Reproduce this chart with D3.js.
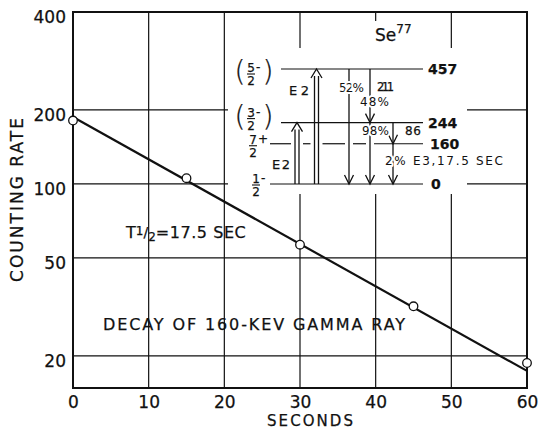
<!DOCTYPE html>
<html>
<head>
<meta charset="utf-8">
<script src="https://cdn.jsdelivr.net/npm/d3@7"></script>
<style>
  body { margin: 0; background: #fff; }
  svg { display: block; }
  text { font-family: "DejaVu Sans", sans-serif; fill: #111; stroke: #111; stroke-width: 0.25px; }
  .halo { stroke: #fff; stroke-width: 4px; paint-order: stroke; stroke-linejoin: round; }
</style>
</head>
<body>
<svg id="chart" width="539" height="430"></svg>
<script>
// Decay of the 160-keV gamma ray of Se77: counting rate against time
const seconds = [0, 15, 30, 45, 60];
const countingRate = [181, 105.5, 56.6, 31.8, 18.7];
const halfLife = 17.5;      // seconds, as stated on the chart
const rateAtZero = 187;     // intercept of the fitted decay line
const xTickValues = [0, 10, 20, 30, 40, 50, 60];
const yTickValues = [20, 50, 100, 200, 500];
const yTickLabels = ["20", "50", "100", "200", "400"];

// Se77 level scheme (keV)
const levelEnergies = [0, 160, 244, 457];
const levelNumerators = ["1", "7", "3", "5"];
const levelParities = ["-", "+", "-", "-"];
const levelBracketed = [false, false, true, true];
const transitionFrom = [0, 0, 457, 457, 244, 244, 160];
const transitionTo = [244, 457, 0, 244, 0, 160, 0];
const transitionLabels = ["E2", "E2", "52%", "211", "98%", "86", "2% E3,17.5 SEC"];
const branchLabel = "48%";

const svg = d3.select("#chart");
const plotLeft = 73, plotRight = 527, plotTop = 12, plotBottom = 388;

const x = d3.scaleLinear().domain([0, 60]).range([plotLeft, plotRight]);
const y = d3.scaleLog().domain([14.8, 500]).range([plotBottom, plotTop]);

// grid
const grid = svg.append("g").attr("stroke", "#111").attr("stroke-width", 1.2);
grid.selectAll("line.v").data(xTickValues.slice(1, -1)).join("line").attr("class", "v")
  .attr("x1", d => x(d)).attr("x2", d => x(d))
  .attr("y1", plotTop).attr("y2", plotBottom);
grid.selectAll("line.h").data(yTickValues.filter(v => v < 500)).join("line").attr("class", "h")
  .attr("x1", plotLeft).attr("x2", plotRight)
  .attr("y1", d => y(d)).attr("y2", d => y(d));

// clear space for the level scheme and its title
svg.append("rect").attr("x", 228).attr("y", 48).attr("width", 239).attr("height", 146).attr("fill", "#fff");
svg.append("rect").attr("x", 358).attr("y", 21).attr("width", 62).attr("height", 28).attr("fill", "#fff");

// frame
svg.append("rect").attr("x", plotLeft).attr("y", plotTop)
  .attr("width", plotRight - plotLeft).attr("height", plotBottom - plotTop)
  .attr("fill", "none").attr("stroke", "#111").attr("stroke-width", 2);

// axes labels
const yAxis = svg.append("g").attr("transform", `translate(${plotLeft},0)`)
  .call(d3.axisLeft(y).tickValues(yTickValues).tickFormat((d, i) => yTickLabels[i]).tickSize(0).tickPadding(7));
const xAxis = svg.append("g").attr("transform", `translate(0,${plotBottom})`)
  .call(d3.axisBottom(x).tickValues(xTickValues).tickFormat(d3.format("d")).tickSize(0).tickPadding(8));
[yAxis, xAxis].forEach(a => {
  a.select(".domain").remove();
  a.selectAll("text").attr("font-family", "DejaVu Sans, sans-serif").attr("font-size", 17).attr("fill", "#111");
});
yAxis.selectAll("text").attr("dy", "0.62em");

svg.append("text").attr("x", 310).attr("y", 426).attr("text-anchor", "middle")
  .attr("font-size", 15).attr("textLength", 86).text("SECONDS");
svg.append("text").attr("transform", "translate(23,200) rotate(-90)")
  .attr("text-anchor", "middle").attr("font-size", 17).attr("textLength", 164).text("COUNTING RATE");

// fitted decay line
const fit = d3.line().x(d => x(d)).y(d => y(rateAtZero * Math.pow(2, -d / halfLife)));
svg.append("path").attr("d", fit([0, 60])).attr("fill", "none")
  .attr("stroke", "#111").attr("stroke-width", 2.2);

// measured points
svg.append("g").selectAll("circle").data(seconds).join("circle")
  .attr("cx", d => x(d)).attr("cy", (d, i) => y(countingRate[i])).attr("r", 4.3)
  .attr("fill", "#fff").attr("stroke", "#111").attr("stroke-width", 1.3);

// annotations
const th = svg.append("text").attr("x", 126).attr("y", 238).attr("font-size", 16);
th.append("tspan").text("T");
th.append("tspan").attr("font-size", 12).attr("dy", -3).text("1");
th.append("tspan").attr("font-size", 14).attr("dy", 2).text("/");
th.append("tspan").attr("font-size", 12).attr("dy", 4).text("2");
th.append("tspan").attr("dy", -3).attr("font-size", 16).attr("textLength", 90).text("=17.5 SEC");

svg.append("text").attr("x", 103).attr("y", 330).attr("font-size", 16)
  .attr("textLength", 302).text("DECAY OF 160-KEV GAMMA RAY");

// level scheme
const ey = d3.scaleLinear().domain([0, 457]).range([184, 69]);
const scheme = svg.append("g").attr("stroke", "#111").attr("fill", "none").attr("stroke-width", 1.3);
const levelStart = e => (e > 200 ? 281 : 270);
const levelEnd = 423;

// transition columns
const colX = [297, 316.5, 349, 370, 370, 393, 393];
const isUp = transitionFrom.map((f, i) => transitionTo[i] > f);

levelEnergies.forEach(e => {
  // the 160 level is broken where transitions pass through it
  const gaps = colX.map((cx, i) => ({ cx, i }))
    .filter(({ i }) => Math.min(transitionFrom[i], transitionTo[i]) < e && Math.max(transitionFrom[i], transitionTo[i]) > e && e < 200)
    .map(({ cx, i }) => [cx - (isUp[i] ? 6 : 4), cx + (isUp[i] ? 6 : 4)])
    .sort((a, b) => a[0] - b[0]);
  let x0 = levelStart(e);
  const segs = [];
  gaps.forEach(g => { if (g[0] > x0) segs.push([x0, g[0]]); x0 = Math.max(x0, g[1]); });
  segs.push([x0, levelEnd]);
  segs.forEach(s => scheme.append("line").attr("x1", s[0]).attr("x2", s[1])
    .attr("y1", ey(e)).attr("y2", ey(e)).attr("stroke-width", 1.2));
});

transitionFrom.forEach((f, i) => {
  const cx = colX[i], t = transitionTo[i];
  const y0 = ey(f), y1 = ey(t);
  if (isUp[i]) {
    scheme.append("line").attr("x1", cx - 2).attr("x2", cx - 2).attr("y1", y0).attr("y2", y1 + 7);
    scheme.append("line").attr("x1", cx + 2).attr("x2", cx + 2).attr("y1", y0).attr("y2", y1 + 7);
    scheme.append("path").attr("d", `M${cx - 5.5},${y1 + 9}L${cx},${y1}L${cx + 5.5},${y1 + 9}`);
  } else {
    scheme.append("line").attr("x1", cx).attr("x2", cx).attr("y1", y0).attr("y2", y1);
    scheme.append("path").attr("d", `M${cx - 4.5},${y1 - 9}L${cx},${y1}L${cx + 4.5},${y1 - 9}`);
  }
});

// transition labels
const tl = svg.append("g");
const addLabel = (txt, px, py, opts = {}) => {
  const t = tl.append("text").attr("x", px).attr("y", py)
    .attr("font-size", opts.size || 12).attr("text-anchor", opts.anchor || "start").text(txt);
  if (opts.len) t.attr("textLength", opts.len);
  if (opts.halo) t.attr("class", "halo");
  return t;
};
addLabel(transitionLabels[0], 272, 169, { size: 13, len: 18 });
addLabel(transitionLabels[1], 289, 95, { size: 13, len: 20 });
addLabel(transitionLabels[2], 339, 92, { len: 25, halo: true });
addLabel(transitionLabels[3], 377, 91, { size: 11.5, len: 17 });
addLabel(branchLabel, 360, 106, { len: 29, halo: true });
addLabel(transitionLabels[4], 362, 135, { len: 27, halo: true });
addLabel(transitionLabels[5], 405, 135, { len: 16 });
addLabel(transitionLabels[6], 385, 165, { len: 118, halo: true });

// level energies
levelEnergies.forEach(e => {
  tl.append("text").attr("x", e === 0 ? 431 : (e === 160 ? 430 : 428)).attr("y", ey(e) + 5)
    .attr("font-size", 14).attr("font-weight", "bold").text(e);
});

// spins and parities
const barOffset = [1, 2, -4, 5];
const numX = [256, 253, 251, 251];
levelEnergies.forEach((e, i) => {
  const by = ey(e) + barOffset[i], nx = numX[i];
  tl.append("text").attr("x", nx).attr("y", by - 2).attr("text-anchor", "middle")
    .attr("font-size", 12).text(levelNumerators[i]);
  tl.append("text").attr("x", nx + 5).attr("y", by - 3)
    .attr("font-size", 12).text(levelParities[i]);
  tl.append("line").attr("x1", nx - 4).attr("x2", nx + 4).attr("y1", by).attr("y2", by)
    .attr("stroke", "#111").attr("stroke-width", 1.1);
  tl.append("text").attr("x", nx).attr("y", by + 11).attr("text-anchor", "middle")
    .attr("font-size", 12).text("2");
  if (levelBracketed[i]) {
    tl.append("text").attr("x", 240).attr("y", by + 7).attr("text-anchor", "middle")
      .attr("font-size", 28).attr("font-weight", "300").text("(");
    tl.append("text").attr("x", 268).attr("y", by + 7).attr("text-anchor", "middle")
      .attr("font-size", 28).attr("font-weight", "300").text(")");
  }
});

// nucleus label
const se = svg.append("text").attr("x", 375).attr("y", 41).attr("font-size", 17);
se.append("tspan").text("Se");
se.append("tspan").attr("font-size", 12).attr("dy", -8).text("77");
</script>
</body>
</html>
